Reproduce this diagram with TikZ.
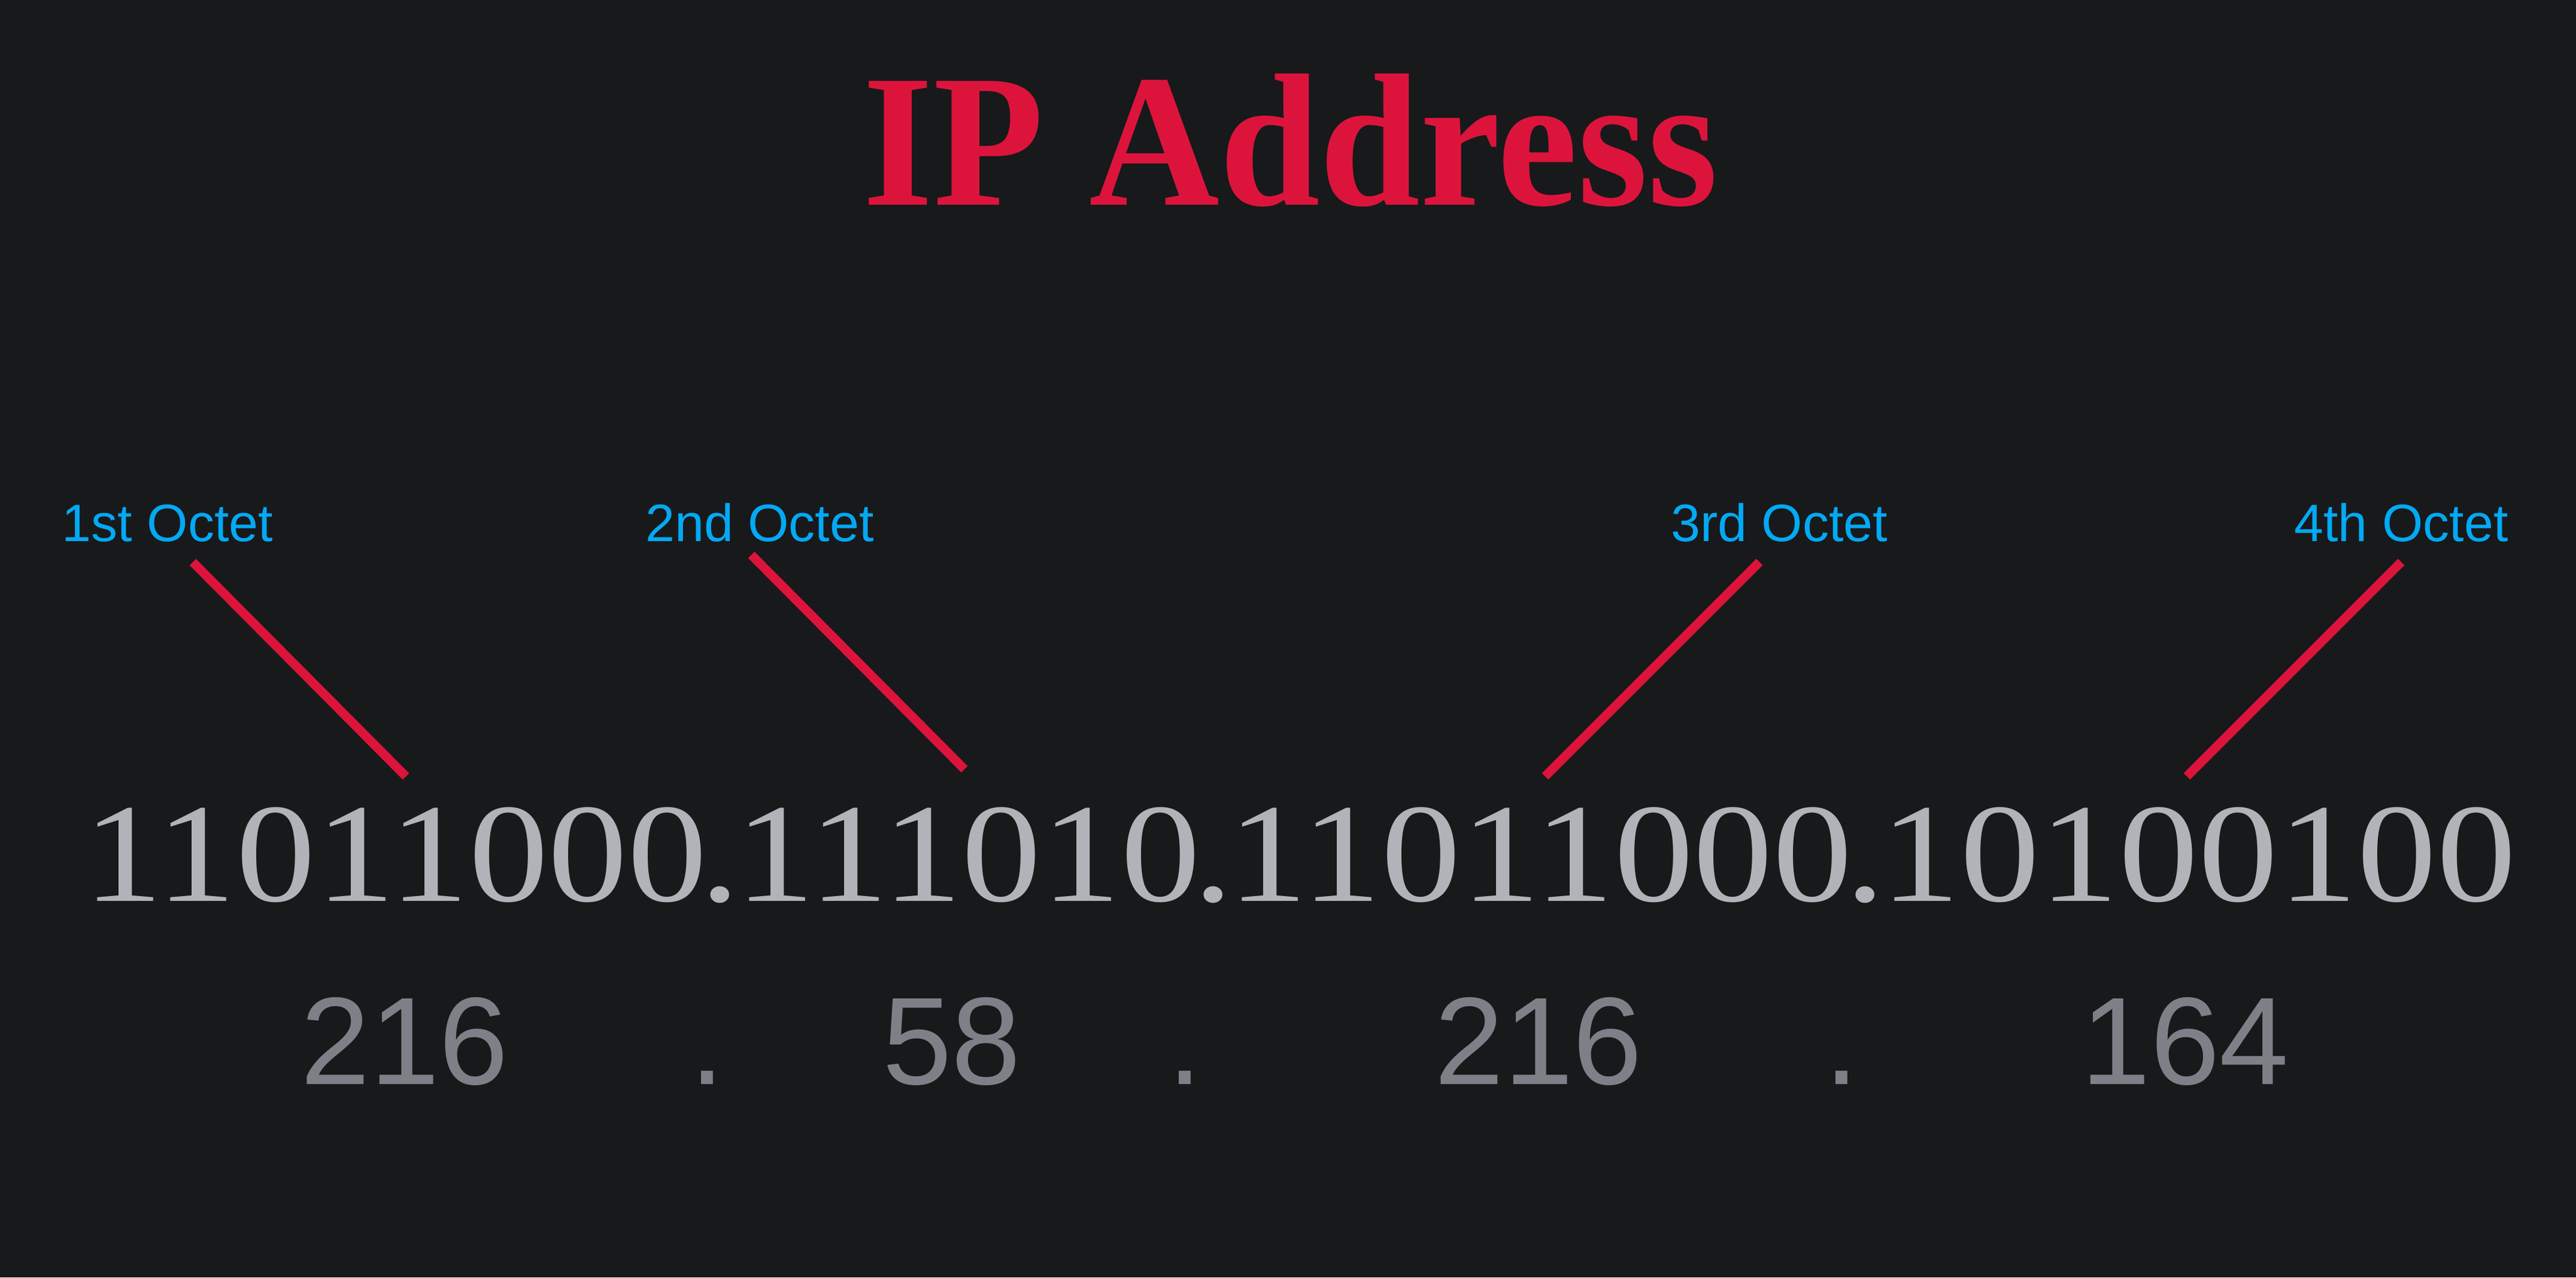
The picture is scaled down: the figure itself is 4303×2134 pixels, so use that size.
\documentclass[tikz,border=0pt]{standalone}
\usepackage{fontspec}
\setmainfont{Liberation Serif}
\newfontfamily\arialf{Liberation Sans}
\definecolor{bgc}{HTML}{18191B}
\definecolor{titlered}{HTML}{DC143C}
\definecolor{octblue}{HTML}{03A9F4}
\definecolor{binrey}{HTML}{B0B3B8}
\definecolor{decgrey}{HTML}{7D8187}
\tikzset{
  titletext/.style={anchor=base, inner sep=0pt, text=titlered,
    font=\fontsize{63.2pt}{70pt}\selectfont\bfseries},
  octlabel/.style={anchor=base, inner sep=0pt, text=octblue,
    font=\arialf\fontsize{17.6pt}{20pt}\selectfont},
  bintext/.style={anchor=base west, inner sep=0pt, text=binrey,
    font=\fontsize{53.1pt}{58pt}\selectfont},
  dectext/.style={anchor=base, inner sep=0pt, text=decgrey,
    font=\arialf\fontsize{41.6pt}{46pt}\selectfont},
  pointer/.style={draw=titlered, line width=3pt, line cap=butt}
}
\begin{document}
\begin{tikzpicture}[x=0.2pt, y=-0.2pt]
\fill[bgc] (0,0) rectangle (4303,2134);
\useasboundingbox (0,0) rectangle (4303,2134);

% title
\node[titletext] (title) at (2156,342) {\scalebox{0.955}[1]{IP Address}};

% octet labels
\node[octlabel] (l1) at (280,904) {1st Octet};
\node[octlabel] (l2) at (1269,904) {2nd Octet};
\node[octlabel] (l3) at (2972,904) {3rd Octet};
\node[octlabel] (l4) at (4011,904) {4th Octet};

% pointer ends
\coordinate (t1) at (322,939);
\coordinate (b1) at (678,1297);
\coordinate (t2) at (1255,927);
\coordinate (b2) at (1611,1285);
\coordinate (t3) at (2939,939);
\coordinate (b3) at (2581,1297);
\coordinate (t4) at (4011,939);
\coordinate (b4) at (3653,1297);

\draw[pointer] (t1) -- (b1);
\draw[pointer] (t2) -- (b2);
\draw[pointer] (t3) -- (b3);
\draw[pointer] (t4) -- (b4);

% binary address
\node[bintext] (bin) at (138,1505) {\scalebox{1}[0.888]{11011000\kern-2.4pt.\kern-1.5pt 111010\kern-2.4pt.\kern-1.5pt 11011000\kern-2.4pt.\kern-1.5pt 10100100}};

% decimal address
\node[dectext] (d1) at (676,1811) {216};
\node[dectext] (p1) at (1181,1811) {.};
\node[dectext] (d2) at (1590,1811) {58};
\node[dectext] (p2) at (1979,1811) {.};
\node[dectext] (d3) at (2570,1811) {216};
\node[dectext] (p3) at (3076,1811) {.};
\node[dectext] (d4) at (3650,1811) {164};
\end{tikzpicture}
\end{document}
